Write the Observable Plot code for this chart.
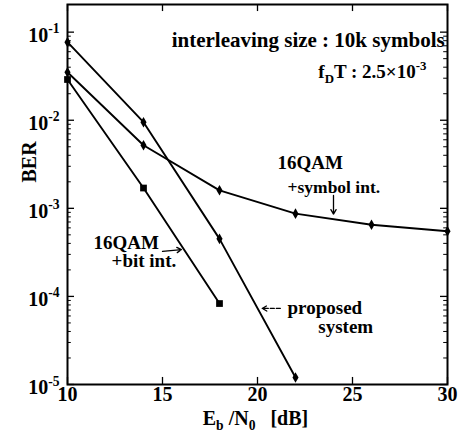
<!DOCTYPE html>
<html>
<head>
<meta charset="utf-8">
<script src="https://cdn.jsdelivr.net/npm/d3@7"></script>
<script src="https://cdn.jsdelivr.net/npm/@observablehq/plot@0.6"></script>
<style>
  html, body { margin: 0; padding: 0; background: #fff; }
  #chart svg { display: block; }
</style>
</head>
<body>
<div id="chart"></div>
<script>
// ---- data ----
const snrProposed = [10, 14, 18, 22];
const berProposed = [0.077, 0.0095, 4.5e-4, 1.2e-5];

const snrSymbol = [10, 14, 18, 22, 26, 30];
const berSymbol = [0.035, 0.0052, 1.6e-3, 8.7e-4, 6.5e-4, 5.5e-4];

const snrBit = [10, 14, 18];
const berBit = [0.029, 1.7e-3, 8.3e-5];

const xTicks = [10, 15, 20, 25, 30];
const yMajor = [1e-1, 1e-2, 1e-3, 1e-4, 1e-5];
const yExponents = ["-1", "-2", "-3", "-4", "-5"];
const yMinorMantissas = [2, 3, 4, 5, 6, 7, 8, 9];
const yDecades = [1e-5, 1e-4, 1e-3, 1e-2, 1e-1];

// ---- build tables ----
const rows = (xs, ys, s) => xs.map((x, i) => ({x, y: ys[i], s}));
const proposed = rows(snrProposed, berProposed, "proposed");
const symbolInt = rows(snrSymbol, berSymbol, "symbol");
const bitInt = rows(snrBit, berBit, "bit");
const yMinor = yDecades.flatMap(d => yMinorMantissas.map(m => m * d)).filter(v => v < 0.2);

const xMin = 10, xMax = 30, yMin = 1e-5, yTop = 0.206;
const majLenX = 0.37, minLenX = 0.2;      // tick lengths along x (data units)
const majLenY = Math.pow(10, 0.08);        // tick length along log y (factor)

const font = "'Liberation Serif', 'Times New Roman', serif";
const fs = 19;

const annotations = [
  {x: 29.85, y: 0.0805, text: "interleaving size : 10k symbols", anchor: "end", size: 21},
  {x: 23.2, y: 0.0358, text: "f_{D}T : 2.5×10^{-3}", anchor: "start", size: 19},
  {x: 21.05, y: 3.24e-3, text: "16QAM", anchor: "start", size: 19},
  {x: 21.58, y: 1.73e-3, text: "+symbol int.", anchor: "start", size: 17.5},
  {x: 11.37, y: 4.1e-4, text: "16QAM", anchor: "start", size: 19},
  {x: 12.32, y: 2.5e-4, text: "+bit int.", anchor: "start", size: 19},
  {x: 21.58, y: 7.45e-5, text: "proposed", anchor: "start", size: 19},
  {x: 23.2, y: 4.45e-5, text: "system", anchor: "start", size: 19}
];
const arrows = [
  {x1: 24, y1: 1.4e-3, x2: 24, y2: 8.6e-4, dash: null},
  {x1: 15.0, y1: 3.24e-4, x2: 16.0, y2: 3.4e-4, dash: null},
  {x1: 21.2, y1: 7.3e-5, x2: 20.25, y2: 7.3e-5, dash: "3,2"}
];

const plot = Plot.plot({
  width: 464,
  height: 439,
  marginLeft: 67,
  marginRight: 17,
  marginTop: 4,
  marginBottom: 55,
  style: {fontFamily: font, fontSize: fs + "px", fontWeight: "bold", background: "#fff", color: "#000"},
  x: {domain: [xMin, xMax], axis: null},
  y: {type: "log", domain: [yMin, yTop], axis: null},
  marks: [
    Plot.frame({stroke: "#000", strokeWidth: 2}),
    // inward ticks: y major (left/right)
    Plot.ruleY(yMajor, {y: d => d, x1: xMin, x2: xMin + majLenX, stroke: "#000", strokeWidth: 1.3}),
    Plot.ruleY(yMajor, {y: d => d, x1: xMax - majLenX, x2: xMax, stroke: "#000", strokeWidth: 1.3}),
    Plot.ruleY(yMinor, {y: d => d, x1: xMin, x2: xMin + minLenX, stroke: "#000", strokeWidth: 1}),
    Plot.ruleY(yMinor, {y: d => d, x1: xMax - minLenX, x2: xMax, stroke: "#000", strokeWidth: 1}),
    // inward ticks: x (bottom/top)
    Plot.ruleX(xTicks, {x: d => d, y1: yMin, y2: yMin * majLenY, stroke: "#000", strokeWidth: 1.3}),
    Plot.ruleX(xTicks, {x: d => d, y1: yTop / majLenY, y2: yTop, stroke: "#000", strokeWidth: 1.3}),
    // tick labels
    Plot.text(xTicks, {x: d => d, frameAnchor: "bottom", dy: 16, text: d => String(d), fontSize: 20}),
    Plot.text(yMajor, {y: d => d, frameAnchor: "left", dx: -8, dy: 3, textAnchor: "end",
      text: (d, i) => "10^{" + yExponents[i] + "}", fontSize: 20}),
    // axis labels
    Plot.text(["BER"], {frameAnchor: "left", dx: -38, dy: -12, rotate: -90, text: d => d, fontSize: 20}),
    Plot.text(["E_{b} /N_{0}   [dB]"], {frameAnchor: "bottom", dx: -2, dy: 40, text: d => d, fontSize: 20}),
    // series lines
    Plot.line(proposed, {x: "x", y: "y", stroke: "#000", strokeWidth: 1.9}),
    Plot.line(symbolInt, {x: "x", y: "y", stroke: "#000", strokeWidth: 1.9}),
    Plot.line(bitInt, {x: "x", y: "y", stroke: "#000", strokeWidth: 1.9}),
    Plot.dot(proposed, {x: "x", y: "y", symbol: "diamond", r: 3.2, fill: "#000"}),
    Plot.dot(symbolInt, {x: "x", y: "y", symbol: "diamond", r: 3.2, fill: "#000"}),
    Plot.dot(bitInt, {x: "x", y: "y", symbol: "square", r: 3.8, fill: "#000"}),
    // annotations
    Plot.text(annotations.filter(a => a.anchor === "end"), {x: "x", y: "y", text: "text", textAnchor: "end", fontSize: "size"}),
    Plot.text(annotations.filter(a => a.anchor === "start"), {x: "x", y: "y", text: "text", textAnchor: "start", fontSize: "size"}),
    Plot.arrow(arrows.filter(a => !a.dash), {x1: "x1", y1: "y1", x2: "x2", y2: "y2", stroke: "#000", strokeWidth: 1.3, headLength: 6}),
    Plot.arrow(arrows.filter(a => a.dash), {x1: "x1", y1: "y1", x2: "x2", y2: "y2", stroke: "#000", strokeWidth: 1.3, headLength: 6, strokeDasharray: "4,2"})
  ]
});

document.getElementById("chart").appendChild(plot);

// turn _{..} and ^{..} into sub/superscript tspans
const NS = "http://www.w3.org/2000/svg";
plot.querySelectorAll("text").forEach(t => {
  const s = t.textContent;
  if (!/[_^]\{/.test(s)) return;
  const size = parseFloat(getComputedStyle(t).fontSize) || fs;
  t.textContent = "";
  const re = /([_^])\{([^}]*)\}|([^_^]+)/g;
  let m, shift = 0;
  while ((m = re.exec(s))) {
    const ts = document.createElementNS(NS, "tspan");
    let target = 0;
    if (m[1]) {
      target = m[1] === "^" ? -0.42 * size : 0.28 * size;
      ts.setAttribute("font-size", (0.68 * size).toFixed(1));
      ts.textContent = m[2];
    } else {
      ts.textContent = m[3];
    }
    const dy = target - shift;
    if (dy !== 0) ts.setAttribute("dy", dy.toFixed(1));
    shift = target;
    t.appendChild(ts);
  }
});
</script>
</body>
</html>
